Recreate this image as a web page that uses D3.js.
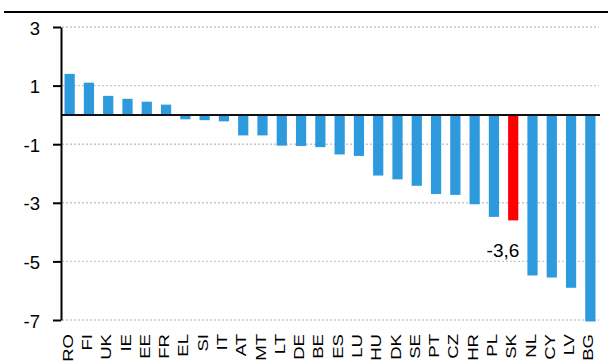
<!DOCTYPE html>
<html>
<head>
<meta charset="utf-8">
<script src="https://cdn.jsdelivr.net/npm/d3@7/dist/d3.min.js"></script>
<style>
  html, body { margin: 0; padding: 0; background: #fff; }
  svg { display: block; font-family: "Liberation Sans", Arial, sans-serif; }
</style>
</head>
<body>
<svg id="chart" width="608" height="363"></svg>
<script>
// Country codes, ordered from highest to lowest value
const countries = ["RO","FI","UK","IE","EE","FR","EL","SI","IT","AT","MT","LT","DE","BE",
                   "ES","LU","HU","DK","SE","PT","CZ","HR","PL","SK","NL","CY","LV","BG"];
const values = [1.4, 1.1, 0.65, 0.55, 0.45, 0.35, -0.15, -0.18, -0.22, -0.7, -0.7, -1.05, -1.06, -1.1,
                -1.35, -1.4, -2.07, -2.2, -2.42, -2.7, -2.73, -3.05, -3.48, -3.6, -5.48, -5.55, -5.9, -7.05];
const yTicks = [3, 1, -1, -3, -5, -7];
const highlight = "SK";
const highlightLabel = "-3,6";

const svg = d3.select("#chart");

const x = d3.scaleBand().domain(countries).range([60, 600]).paddingInner(0.47).paddingOuter(0.235);
const y = d3.scaleLinear().domain([-7, 3]).range([320, 27]);

// top rule
svg.append("line")
  .attr("x1", 4).attr("x2", 608).attr("y1", 12).attr("y2", 12)
  .attr("stroke", "#000").attr("stroke-width", 2.2);

// dotted gridlines
svg.append("g").selectAll("line").data(yTicks).join("line")
  .attr("x1", 62).attr("x2", 599)
  .attr("y1", d => y(d)).attr("y2", d => y(d))
  .attr("stroke", "#c8c8c8").attr("stroke-width", 1.4)
  .attr("stroke-dasharray", "2,2");

// bars
svg.append("g").selectAll("rect").data(countries).join("rect")
  .attr("x", d => x(d))
  .attr("width", x.bandwidth())
  .attr("y", (d, i) => Math.min(y(0), y(values[i])))
  .attr("height", (d, i) => Math.abs(y(values[i]) - y(0)))
  .attr("fill", d => d === highlight ? "#ff0000" : "#2e9ade");

// zero line
svg.append("line")
  .attr("x1", 61).attr("x2", 600).attr("y1", y(0)).attr("y2", y(0))
  .attr("stroke", "#111").attr("stroke-width", 2);

// y axis
const yAxis = d3.axisLeft(y).tickValues(yTicks).tickSize(8).tickSizeOuter(0)
  .tickFormat(d => String(d));
const gy = svg.append("g").attr("transform", "translate(61,0)").call(yAxis);
gy.select(".domain").attr("stroke", "#000").attr("stroke-width", 2);
gy.selectAll(".tick line").attr("stroke", "#000").attr("stroke-width", 2);
gy.selectAll(".tick text")
  .attr("x", -21).attr("dy", "0.38em")
  .attr("font-size", 18.5).attr("fill", "#000")
  .attr("font-family", "'Liberation Sans', Arial, sans-serif");

// category labels, rotated and stretched along the reading direction
svg.append("g").selectAll("text").data(countries).join("text")
  .attr("transform", d => `translate(${x(d) + x.bandwidth() / 2 + 3},334) rotate(-90) scale(1.24,1)`)
  .attr("text-anchor", "end")
  .attr("font-size", 15)
  .attr("fill", "#000")
  .text(d => d);

// value label for highlighted country
const hi = countries.indexOf(highlight);
svg.append("text")
  .attr("x", x(highlight) + x.bandwidth() + 1)
  .attr("y", y(values[hi]) + 37)
  .attr("text-anchor", "end")
  .attr("font-size", 19)
  .attr("fill", "#000")
  .text(highlightLabel);
</script>
</body>
</html>
